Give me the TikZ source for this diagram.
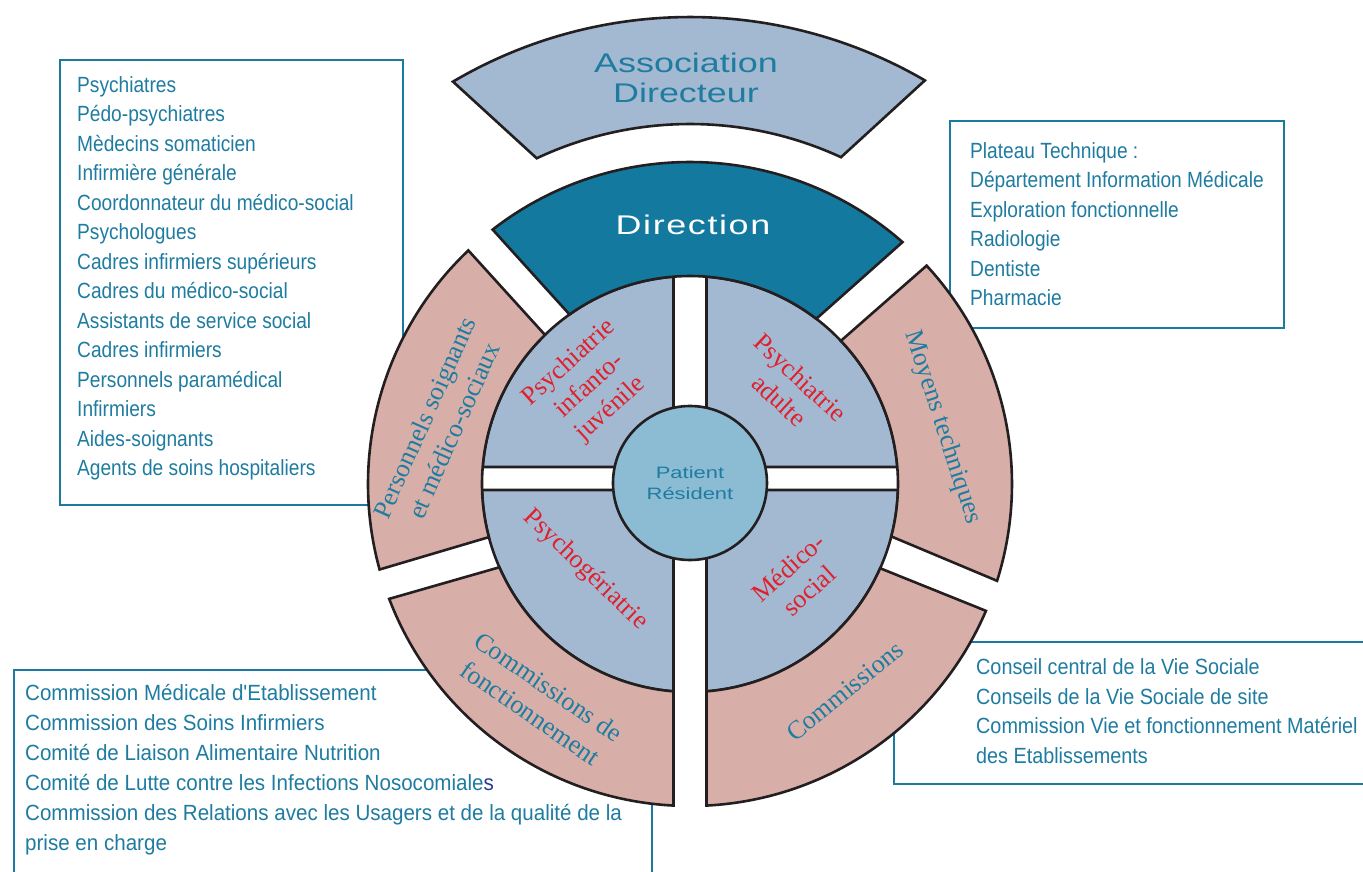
\documentclass[tikz,border=0pt]{standalone}
\usepackage{fontspec}
\setmainfont{Liberation Serif}
\newfontfamily\listfont[FakeStretch=0.87]{Liberation Sans}
\newfontfamily\listfontm[FakeStretch=0.90]{Liberation Sans}
\newfontfamily\listfontw[FakeStretch=0.935]{Liberation Sans}
\newfontfamily\widefont[FakeStretch=1.33]{Liberation Sans}
\newfontfamily\dirfont[FakeStretch=1.33,LetterSpace=6]{Liberation Sans}

\definecolor{quadblue}{HTML}{A3B9D2}
\definecolor{ringpink}{HTML}{D8AFA8}
\definecolor{dirteal}{HTML}{14799F}
\definecolor{patblue}{HTML}{8BBCD4}
\definecolor{tealtxt}{HTML}{1F7CA1}
\definecolor{tealline}{HTML}{1A7AA0}
\definecolor{redtxt}{HTML}{E0202D}
\definecolor{segline}{HTML}{231F20}
\definecolor{darkblu}{HTML}{2B3990}

\begin{document}
\begin{tikzpicture}[x=1pt,y=1pt,line join=miter,
	seg/.style={draw=segline,line width=2.6pt},
	listbox/.style={draw=tealline,line width=2pt},
	listtext/.style={anchor=north west,inner sep=0pt,align=left,text=tealtxt,
		font=\listfont\fontsize{22}{29.5}\selectfont},
	ringlabel/.style={text=tealtxt,align=center,inner sep=0pt,
		font=\fontsize{26}{32}\selectfont},
	quadlabel/.style={text=redtxt,align=center,inner sep=0pt,
		font=\fontsize{26}{31}\selectfont}]

	\path[use as bounding box,fill=white] (-690,-387) rectangle (673,484);

	% boxes with the lists
	\draw[listbox] (-630,424) rectangle (-287,-21);
	\draw[listbox] (260,363) rectangle (594,156);
	\draw[listbox] (204,-158) rectangle (690,-300);
	\draw[listbox] (-676,-186) rectangle (-38,-400);

	\node[listtext] (staff) at (-613,408) {Psychiatres\\Pédo-psychiatres\\Mèdecins somaticien\\Infirmière générale\\Coordonnateur du médico-social\\Psychologues\\Cadres infirmiers supérieurs\\Cadres du médico-social\\Assistants de service social\\Cadres infirmiers\\Personnels paramédical\\Infirmiers\\Aides-soignants\\Agents de soins hospitaliers};
	\node[listtext] (plateau) at (280,342) {Plateau Technique :\\Département Information Médicale\\Exploration fonctionnelle\\Radiologie\\Dentiste\\Pharmacie};
	\node[listtext,font=\listfontm\fontsize{22}{29.5}\selectfont] (conseils) at (286,-174.5) {Conseil central de la Vie Sociale\\Conseils de la Vie Sociale de site\\Commission Vie et fonctionnement Matériel\\des Etablissements};
	\node[listtext,font=\listfontw\fontsize{22}{30}\selectfont] (cme) at (-665,-200.5) {Commission Médicale d'Etablissement\\Commission des Soins Infirmiers\\Comité de Liaison Alimentaire Nutrition\\Comité de Lutte contre les Infections Nosocomiale\textcolor{darkblu}{s}\\Commission des Relations avec les Usagers et de la qualité de la\\prise en charge};

	% inner quarters
	\draw[seg,fill=quadblue] (-16.5,17) -- (94.55:208) arc[start angle=94.55,end angle=175.31,radius=208] -- cycle;
	\draw[seg,fill=quadblue] (16.5,17) -- (85.45:208) arc[start angle=85.45,end angle=4.69,radius=208] -- cycle;
	\draw[seg,fill=quadblue] (-16.5,-6) -- (181.65:208) arc[start angle=181.65,end angle=265.45,radius=208] -- cycle;
	\draw[seg,fill=quadblue] (16.5,-6) -- (274.55:208) arc[start angle=274.55,end angle=358.35,radius=208] -- cycle;

	\node[seg,circle,fill=patblue,minimum size=154pt,inner sep=0pt,align=center,
		text=tealtxt,font=\widefont\fontsize{16.5}{21}\selectfont] (patient) at (0,1) {Patient\\Résident};

	% outer ring
	\draw[seg,fill=ringpink] (134.2:208) arc[start angle=134.2,end angle=194.8,radius=208]
		-- (195.4:322) arc[start angle=195.4,end angle=133.5,radius=322] -- cycle;
	\draw[seg,fill=ringpink] (203.6:208) arc[start angle=203.6,end angle=265.45,radius=208]
		-- (267.06:322) arc[start angle=267.06,end angle=200.9,radius=322] -- cycle;
	\draw[seg,fill=ringpink] (274.55:208) arc[start angle=274.55,end angle=336.1,radius=208]
		-- (336.8:322) arc[start angle=336.8,end angle=272.94,radius=322] -- cycle;
	\draw[seg,fill=ringpink] (-14.6:208) arc[start angle=-14.6,end angle=43.5,radius=208]
		-- (42.7:322) arc[start angle=42.7,end angle=-17.5,radius=322] -- cycle;
	\draw[seg,fill=dirteal] (52.6:208) arc[start angle=52.6,end angle=125.4,radius=208]
		-- (127.8:322) arc[start angle=127.8,end angle=48.7,radius=322] -- cycle;
	\draw[seg,fill=quadblue] (65.2:360) arc[start angle=65.2,end angle=115.2,radius=360]
		-- (120.5:467) arc[start angle=120.5,end angle=59.8,radius=467] -- cycle;

	% labels
	\node[quadlabel,rotate=42] (infanto) at (-100,98) {Psychiatrie\\infanto-\\juvénile};
	\node[quadlabel,rotate=-43] (adulte) at (100,95) {Psychiatrie\\adulte};
	\node[quadlabel,rotate=-44] (geriatrie) at (-104.5,-86) {Psychogériatrie};
	\node[quadlabel,rotate=42] (medsoc) at (108.5,-95) {Médico-\\social};

	\node[ringlabel,rotate=66] (personnels) at (-251,60) {Personnels soignants\\et médico-sociaux};
	\node[ringlabel,rotate=-72] (moyens) at (252.5,56.5) {Moyens techniques};
	\node[ringlabel,rotate=-34.6] (fonction) at (-150.5,-216) {Commissions de\\fonctionnement};
	\node[ringlabel,rotate=39] (commissions) at (155,-207) {Commissions};

	\node[text=white,font=\dirfont\fontsize{27}{30}\selectfont] (direction) at (3,259) {Direction};
	\node[text=tealtxt,align=center,font=\widefont\fontsize{27}{30.3}\selectfont] (assoc) at (-4,406) {Association\\Directeur};
\end{tikzpicture}
\end{document}
